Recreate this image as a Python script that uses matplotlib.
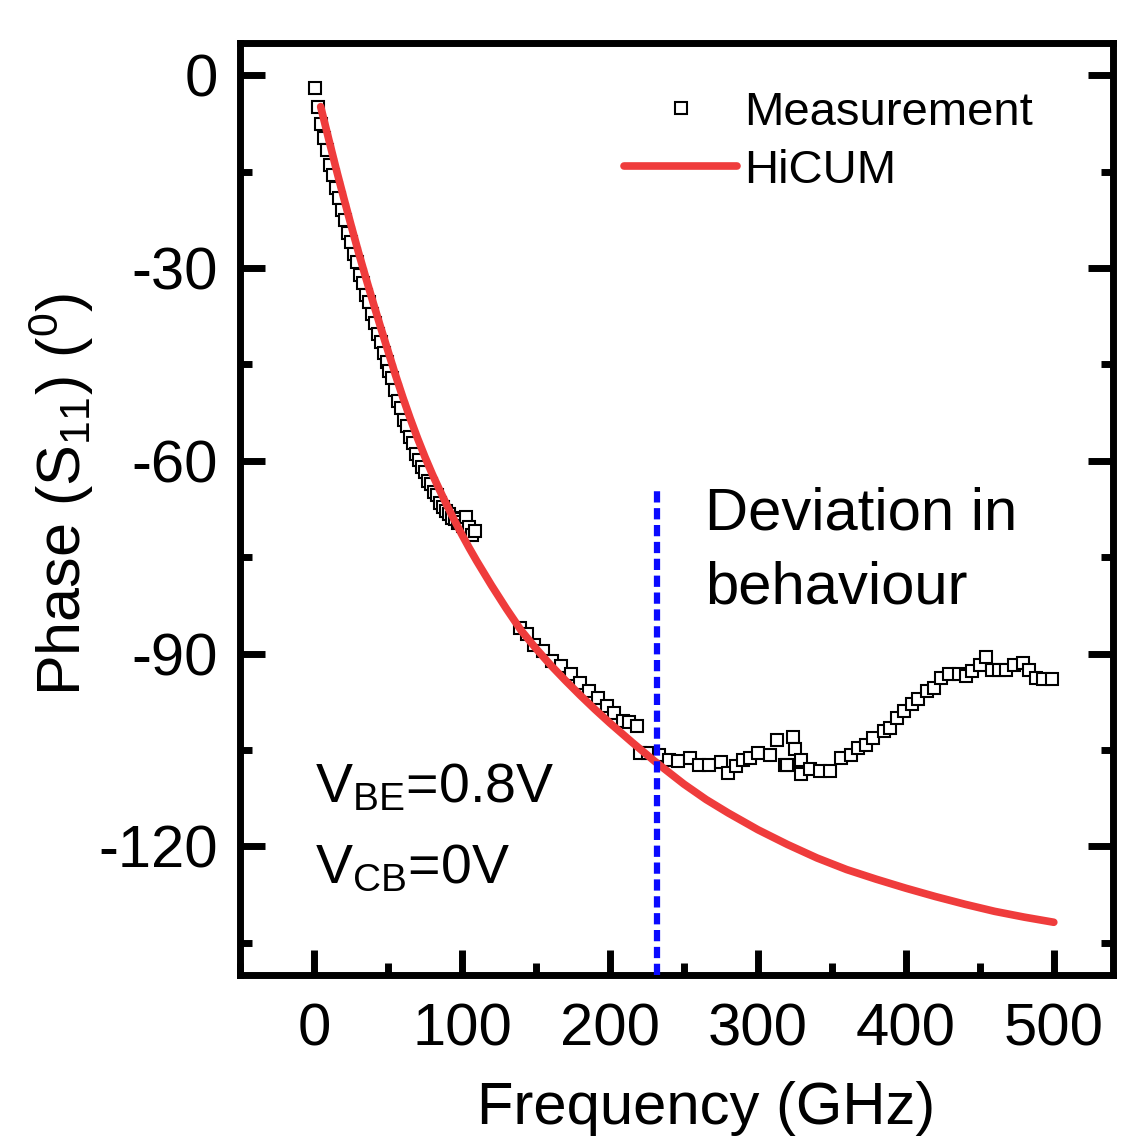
import matplotlib
matplotlib.use('Agg')
import matplotlib.pyplot as plt
from matplotlib.ticker import MultipleLocator

plt.rcParams['font.family'] = ['Liberation Sans', 'DejaVu Sans']
plt.rcParams['mathtext.fontset'] = 'custom'
plt.rcParams['mathtext.rm'] = 'Liberation Sans'
plt.rcParams['mathtext.it'] = 'Liberation Sans'
plt.rcParams['mathtext.default'] = 'regular'
plt.rcParams['axes.unicode_minus'] = False

# measured phase, dense sweep below ~110 GHz
meas_f1 = [1, 3, 5, 7, 9, 11, 13, 15, 17, 19, 21, 23, 25, 27, 29, 31, 33, 35, 37, 39,
           41, 43, 45, 47, 49, 51, 53, 55, 57, 59, 61, 63, 65, 67, 69, 71, 73, 75, 77, 79,
           81, 83, 85, 87, 89, 91, 93, 95, 97, 99, 101, 103, 105, 107, 109]
meas_p1 = [-2.0, -4.9, -7.6, -9.7, -11.6, -13.9, -15.6, -17.5, -19.1, -21.0,
           -22.6, -24.5, -25.9, -27.8, -29.0, -31.1, -32.4, -34.2, -35.3, -37.2,
           -38.6, -40.3, -41.5, -43.2, -44.6, -46.0, -47.1, -49.0, -50.7, -51.8,
           -53.6, -54.6, -56.3, -57.2, -58.9, -59.8, -61.0, -61.7, -63.1, -63.6,
           -64.8, -65.3, -66.5, -67.2, -67.8, -68.3, -68.9, -69.0, -69.6, -69.5,
           -70.2, -68.8, -70.3, -71.5, -70.9]

# measured phase, coarse sweep 140-500 GHz
meas_f2 = [139, 144, 149, 155, 161, 167, 174, 180, 186, 192, 198, 203, 209, 213, 218,
           220, 226, 233, 240, 246, 254, 260, 267, 275, 280, 285, 290, 295, 300, 308,
           313, 318, 320, 324, 325, 329, 329, 335, 342, 349, 356, 363, 368, 373, 378,
           385, 389, 394, 399, 404, 408, 414, 419, 424, 429, 436, 441, 445, 450, 454,
           458, 463, 468, 473, 479, 483, 488, 493, 499]
meas_p2 = [-86.0, -87.0, -88.6, -89.6, -91.2, -91.9, -93.2, -94.5, -95.8, -96.9,
           -98.2, -99.2, -100.5, -100.6, -101.3,
           -105.4, -105.4, -105.7, -106.6, -106.7, -106.2, -107.3, -107.3, -106.8, -108.5,
           -107.5, -106.5, -106.2, -105.4, -105.8, -103.4, -107.3, -107.3, -102.9, -104.8,
           -106.5, -108.8, -108.0, -108.3, -108.3, -106.2, -105.7, -104.7, -104.2, -103.1,
           -102.1, -101.6, -100.0, -99.0, -97.9, -97.1, -95.8, -95.3, -93.8, -93.2,
           -93.2, -93.5, -92.7, -91.7, -90.6, -92.5, -92.5, -92.5, -91.7, -91.4,
           -92.5, -93.8, -94.0, -94.0]

# HiCUM model
hicum_f = [4.5, 10, 15, 20, 25, 30, 35, 40, 45, 50, 55, 60, 65, 70, 75, 80, 85, 90, 95,
           100, 105, 110, 120, 130, 140, 150, 160, 170, 180, 190, 200, 215, 230,
           250, 265, 280, 300, 320, 340, 360, 380, 400, 420, 440, 460, 480, 500]
hicum_p = [-4.9, -10.0, -14.6, -19.0, -23.3, -27.5, -31.5, -35.4, -39.2, -42.9,
           -46.6, -50.1, -53.4, -56.5, -59.4, -62.1, -64.6, -67.0, -69.3, -71.5,
           -73.6, -75.6, -79.4, -83.0, -86.4, -89.2, -91.8, -94.2, -96.5, -98.7,
           -100.8, -103.8, -106.7, -110.3, -112.7, -114.8, -117.4, -119.7, -121.8,
           -123.6, -125.1, -126.5, -127.8, -129.0, -130.1, -131.0, -131.8]

dev_freq = 232
dev_top = -64

fig = plt.figure(figsize=(11.29, 11.45), dpi=100)
ax = fig.add_axes([0.2126, 0.1485, 0.7732, 0.8139])

ax.plot(meas_f1 + meas_f2, meas_p1 + meas_p2, 's', ms=8.6, mfc='white', mec='black',
        mew=1.5, label='Measurement', zorder=2)
ax.plot(hicum_f, hicum_p, '-', color='#ef3c3c', lw=5.5, label='HiCUM', zorder=3,
        solid_capstyle='round')
ax.plot([dev_freq, dev_freq], [-140, dev_top], color='#0a0aff', lw=4.5,
        dashes=(1.8, 0.9), zorder=4)

ax.set_xlim(-50, 540)
ax.set_ylim(-140, 5)
ax.xaxis.set_major_locator(MultipleLocator(100))
ax.xaxis.set_minor_locator(MultipleLocator(50))
ax.yaxis.set_major_locator(MultipleLocator(30))
ax.yaxis.set_minor_locator(MultipleLocator(15))
ax.tick_params(which='both', direction='in', top=False, right=True, width=5)
ax.tick_params(which='major', length=18, labelsize=43)
ax.tick_params(axis='x', which='major', pad=20)
ax.tick_params(axis='y', which='major', pad=16)
ax.tick_params(which='minor', length=8.5)
for sp in ax.spines.values():
    sp.set_linewidth(5)

ax.set_xlabel('Frequency (GHz)', fontsize=43, va='top')
ax.xaxis.set_label_coords(0.534, -0.1137)
ax.set_ylabel('Phase (S$_{11}$) ($^0$)', fontsize=44)
ax.yaxis.set_label_coords(-0.165, 0.516)

ax.text(0.5326, 0.4775, 'Deviation in', transform=ax.transAxes, fontsize=43,
        va='baseline', ha='left')
ax.text(0.5326, 0.3991, 'behaviour', transform=ax.transAxes, fontsize=43,
        va='baseline', ha='left')
ax.text(0.0859, 0.1856, 'V$_{BE}$=0.8V', transform=ax.transAxes, fontsize=40,
        va='baseline', ha='left')
ax.text(0.0859, 0.0987, 'V$_{CB}$=0V', transform=ax.transAxes, fontsize=40,
        va='baseline', ha='left')

ax.legend(loc='upper left', bbox_to_anchor=(0.4185, 0.969), frameon=False,
          fontsize=34, handlelength=2.39, handletextpad=0.15, labelspacing=0.3,
          numpoints=1, borderaxespad=0)

fig.savefig('out.png', dpi=100)
